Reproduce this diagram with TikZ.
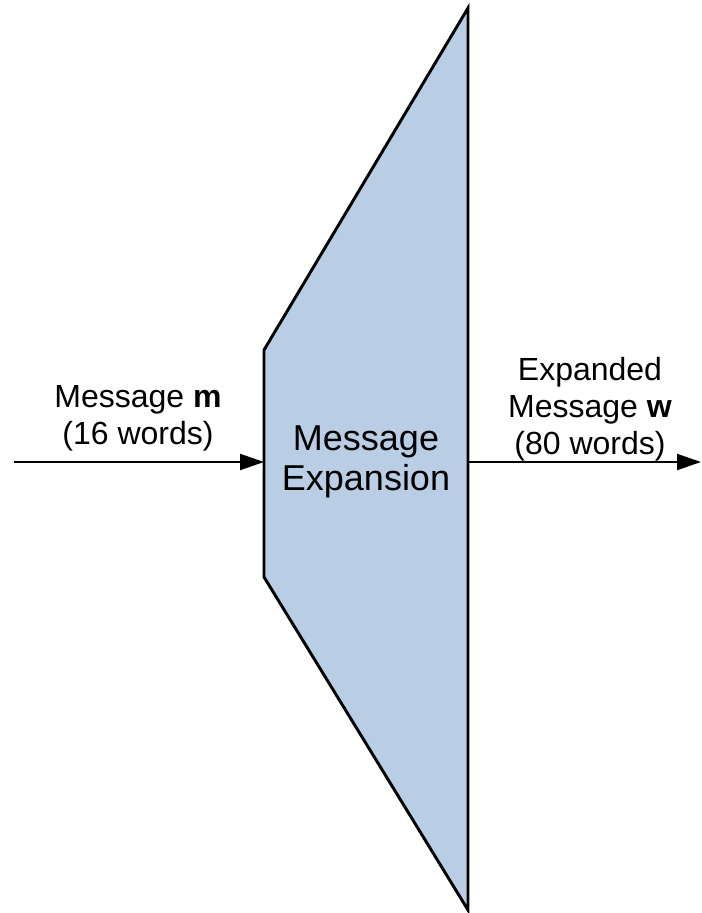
\documentclass[tikz,border=0pt]{standalone}
\usepackage{fontspec}
\setmainfont{Liberation Sans}
\usetikzlibrary{arrows.meta}

\definecolor{expandfill}{HTML}{B9CDE5}

\tikzset{
  expandblock/.style={draw, line width=2.2pt, fill=expandfill},
  flow/.style={line width=1.5pt, -{Triangle[length=18pt, width=12pt]}},
  wordlabel/.style={align=center, inner sep=0pt,
    font=\fontsize{24}{27.75}\selectfont}
}

\begin{document}
\begin{tikzpicture}[x=0.75pt, y=-0.75pt]
%\draw[help lines, step=50] (0, 0) grid (702, 913);
\useasboundingbox (0, 0) rectangle (702, 913);

\pgfmathsetmacro\xL{264};
\pgfmathsetmacro\xR{468};
\pgfmathsetmacro\yMid{462};

% expansion block
\draw [expandblock]
  (\xR, 8) to
  (\xL, 350) to
  (\xL, 577) to
  (\xR, 910) -- cycle;

\node [align=center, inner sep=0pt, font=\fontsize{27}{30}\selectfont]
  (expand) at (\xL/2 + \xR/2, \yMid) {Message\\Expansion};

\coordinate (expandin) at (\xL, \yMid);
\coordinate (expandout) at (\xR, \yMid);
\coordinate (msgin) at (14, \yMid);
\coordinate (wout) at (701, \yMid);

% input message
\draw [flow] (msgin) to (expandin);
\node [wordlabel, anchor=south] (mlabel) at (138, \yMid - 11)
  {Message \textbf{m}\\(16 words)};

% expanded message
\draw [flow] (expandout) to (wout);
\node [wordlabel, anchor=south] (wlabel) at (590, \yMid - 1)
  {Expanded\\Message \textbf{w}\\(80 words)};

\end{tikzpicture}
\end{document}
